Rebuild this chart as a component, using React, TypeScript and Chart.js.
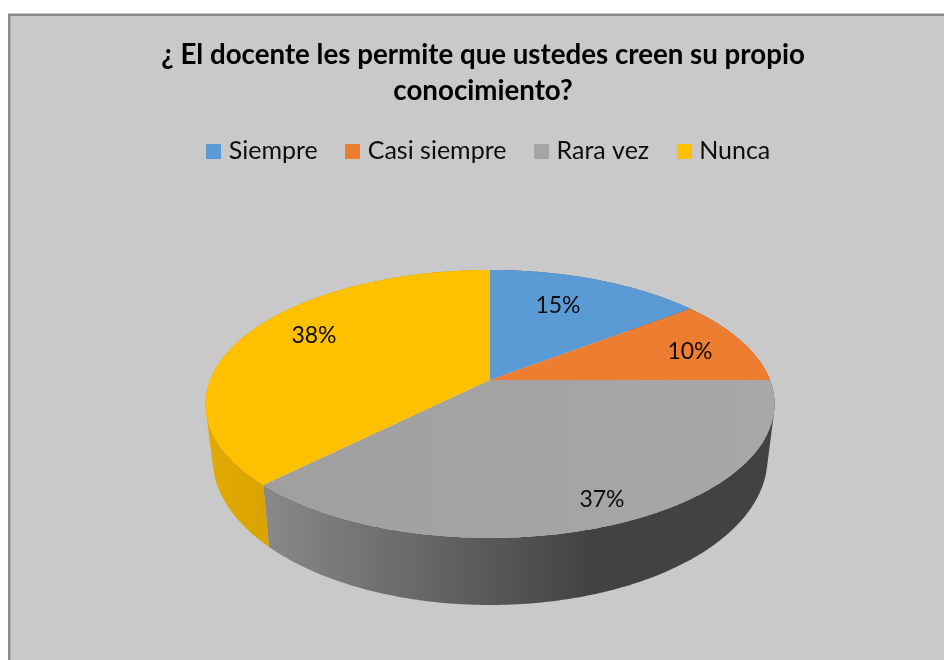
import React, { useEffect, useRef } from "react";
import { Chart, registerables } from "chart.js";

Chart.register(...registerables);

const categories = ["Siempre", "Casi siempre", "Rara vez", "Nunca"];
const values = [14.58, 10.42, 37.5, 37.5];
const valueLabels = ["15%", "10%", "37%", "38%"];
const sliceColors = ["#5B9BD5", "#ED7D31", "#A5A5A5", "#FFC000"];
const titleLines = ["¿ El docente les permite que ustedes creen su propio", "conocimiento?"];
const labelCentres = [[558, 306], [690, 352], [602, 500], [314, 336]];

const FONT = "Lato, 'Open Sans', sans-serif";
const CY = 380, R = 280, A = 129.7, B = 0.179;
const LOWER_DROP = 52, LOWER_X = 0.975, LOWER_Y = 1.095;

function project(cx: number, t: number, lower: boolean) {
  const x = Math.cos(t), y = Math.sin(t), d = 1 - B * y;
  const px = (R * x) / d, py = (A * y) / d;
  return lower ? [cx + px * LOWER_X, CY + LOWER_DROP + py * LOWER_Y] : [cx + px, CY + py];
}

function arcPoints(cx: number, a0: number, a1: number, lower: boolean) {
  const n = Math.max(2, Math.ceil(Math.abs(a1 - a0) / (Math.PI / 360)));
  const pts: number[][] = [];
  for (let i = 0; i <= n; i++) pts.push(project(cx, a0 + ((a1 - a0) * i) / n, lower));
  return pts;
}

function addPolygon(ctx: CanvasRenderingContext2D, pts: number[][]) {
  pts.forEach((p, i) => (i ? ctx.lineTo(p[0], p[1]) : ctx.moveTo(p[0], p[1])));
  ctx.closePath();
}

function signedArea(pts: number[][]) {
  let s = 0;
  pts.forEach((p, i) => {
    const q = pts[(i + 1) % pts.length];
    s += p[0] * q[1] - q[0] * p[1];
  });
  return s;
}

function wallFill(ctx: CanvasRenderingContext2D, i: number) {
  const g = ctx.createLinearGradient(205, 0, 775, 0);
  if (i === 3) {
    g.addColorStop(0, "#E3AB00");
    g.addColorStop(0.11, "#D9A300");
    g.addColorStop(1, "#A07800");
  } else if (i === 2) {
    g.addColorStop(0, "#939393");
    g.addColorStop(0.11, "#888888");
    g.addColorStop(0.52, "#565656");
    g.addColorStop(0.68, "#424242");
    g.addColorStop(1, "#424242");
  } else {
    g.addColorStop(0, i === 0 ? "#3D5E80" : "#8E4B1D");
    g.addColorStop(1, i === 0 ? "#3D5E80" : "#8E4B1D");
  }
  return g;
}

function swatch(color: string) {
  const c = document.createElement("canvas");
  c.width = 15;
  c.height = 15;
  const x = c.getContext("2d")!;
  x.fillStyle = color;
  x.fillRect(0, 0, 15, 15);
  return c;
}

const backdrop = {
  id: "backdrop",
  beforeDraw(chart: any) {
    const { ctx } = chart;
    ctx.save();
    ctx.fillStyle = "#FFFFFF";
    ctx.fillRect(0, 0, chart.width, chart.height);
    ctx.fillStyle = "#C9C9C9";
    ctx.strokeStyle = "#8C8C8C";
    ctx.lineWidth = 2.5;
    ctx.fillRect(9, 15, chart.width, chart.height);
    ctx.strokeRect(9.25, 14.75, chart.width, chart.height);
    ctx.restore();
  },
};

const boxShift = {
  id: "boxShift",
  afterLayout(chart: any) {
    chart.titleBlock.left -= 7;
    chart.titleBlock.right -= 7;
    chart.legend.left += 1;
    chart.legend.right += 1;
  },
};

const tiltedPie = {
  id: "tiltedPie",
  beforeDatasetsDraw(chart: any) {
    const { ctx } = chart;
    const arcs = chart.getDatasetMeta(0).data;
    ctx.save();
    arcs.forEach((arc: any, i: number) => {
      const top = arcPoints(arc.x, arc.startAngle, arc.endAngle, false);
      const low = arcPoints(arc.x, arc.startAngle, arc.endAngle, true);
      ctx.beginPath();
      for (let k = 0; k + 1 < top.length; k++) {
        const quad = [top[k], top[k + 1], low[k + 1], low[k]];
        addPolygon(ctx, signedArea(quad) < 0 ? quad.reverse() : quad);
      }
      ctx.fillStyle = wallFill(ctx, i);
      ctx.fill("nonzero");
    });
    arcs.forEach((arc: any, i: number) => {
      const pts = arcPoints(arc.x, arc.startAngle, arc.endAngle, false);
      pts.push([arc.x, CY]);
      ctx.beginPath();
      addPolygon(ctx, pts);
      if (i === 2) {
        const g = ctx.createLinearGradient(260, 0, 775, 0);
        g.addColorStop(0, "#9F9F9F");
        g.addColorStop(1, "#A8A8A8");
        ctx.fillStyle = g;
      } else {
        ctx.fillStyle = sliceColors[i];
      }
      ctx.fill();
    });
    ctx.fillStyle = "#0D0D0D";
    ctx.font = `23px ${FONT}`;
    ctx.textAlign = "center";
    ctx.textBaseline = "middle";
    valueLabels.forEach((t, i) => ctx.fillText(t, labelCentres[i][0], labelCentres[i][1]));
    ctx.restore();
    return false;
  },
};

export default function App() {
  const ref = useRef<HTMLCanvasElement>(null);
  useEffect(() => {
    const chart = new Chart(ref.current!, {
      type: "pie",
      data: {
        labels: categories,
        datasets: [{ data: values, backgroundColor: sliceColors, borderWidth: 0 }],
      },
      options: {
        animation: false,
        responsive: false,
        plugins: {
          title: {
            display: true,
            text: titleLines,
            color: "#000000",
            font: { family: FONT, size: 27.7, weight: "bold", lineHeight: 1.32 },
            padding: { top: 36.5, bottom: -4 },
          },
          legend: {
            display: true,
            position: "top",
            labels: {
              boxWidth: 4.5,
              boxHeight: 15,
              padding: 33,
              usePointStyle: true,
              color: "#0D0D0D",
              font: { family: FONT, size: 25 },
              generateLabels: (c: any) =>
                (Chart as any).overrides.pie.plugins.legend.labels
                  .generateLabels(c)
                  .map((item: any, i: number) => ({ ...item, pointStyle: swatch(sliceColors[i]) })),
            },
          },
          tooltip: { enabled: false },
        },
      },
      plugins: [backdrop, boxShift, tiltedPie],
    } as any);
    return () => chart.destroy();
  }, []);
  return (
    <div style={{ position: "fixed", inset: 0, overflow: "hidden", background: "#fff" }}>
      <canvas ref={ref} width={980} height={660} style={{ position: "absolute", left: 0, top: 0 }} />
    </div>
  );
}
